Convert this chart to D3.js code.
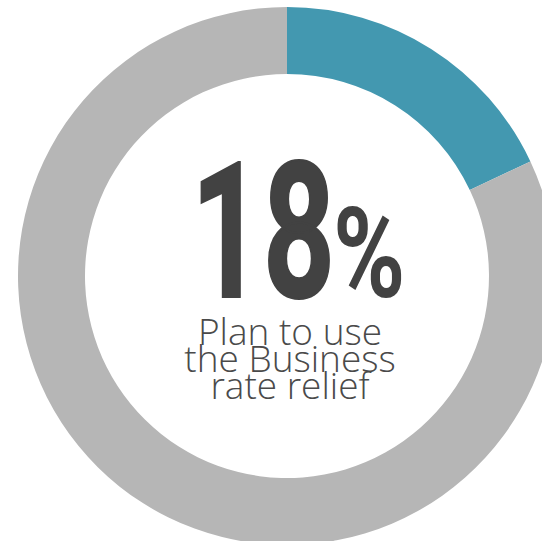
<!DOCTYPE html>
<html>
<head>
<meta charset="utf-8">
<script src="https://cdn.jsdelivr.net/npm/d3@7"></script>
<style>
  html, body { margin: 0; padding: 0; background: #fff; overflow: hidden; }
</style>
</head>
<body>
<svg id="chart" width="542" height="541"></svg>
<script>
const segments = ["Plan to use", "Other"];
const shares = [18, 82];
const colours = ["#4398b0", "#b6b6b6"];
const caption = ["Plan to use", "the Business", "rate relief"];

const width = 542, height = 541;
const cx = 287, cy = 276;
const outerR = 269, innerR = 202;

const svg = d3.select("#chart");
const g = svg.append("g").attr("transform", `translate(${cx},${cy})`);

const pie = d3.pie().sort(null).value((d) => d.v);
const arc = d3.arc().innerRadius(innerR).outerRadius(outerR);
const data = segments.map((s, i) => ({ label: s, v: shares[i] }));

g.selectAll("path")
  .data(pie(data))
  .join("path")
  .attr("d", arc)
  .attr("fill", (d, i) => colours[i]);

// big number, condensed by scaling
g.append("text")
  .attr("font-family", "Roboto, 'Liberation Sans', sans-serif")
  .attr("font-weight", 700)
  .attr("font-size", 190)
  .attr("fill", "#424242")
  .attr("stroke", "#424242")
  .attr("stroke-width", 2)
  .attr("transform", "translate(-96,21) scale(0.66,1)")
  .text(shares[0]);

g.append("text")
  .attr("font-family", "Roboto, 'Liberation Sans', sans-serif")
  .attr("font-weight", 700)
  .attr("font-size", 127)
  .attr("fill", "#424242")
  .attr("transform", "translate(46,21) scale(0.77,1)")
  .text("%");

g.append("g")
  .selectAll("text")
  .data(caption)
  .join("text")
  .attr("x", 3)
  .attr("y", (d, i) => 69 + i * 27)
  .attr("text-anchor", "middle")
  .attr("font-family", "'Open Sans', sans-serif")
  .attr("font-weight", 300)
  .attr("font-size", 37)
  .attr("fill", "#4a4a4a")
  .text((d) => d);
</script>
</body>
</html>
